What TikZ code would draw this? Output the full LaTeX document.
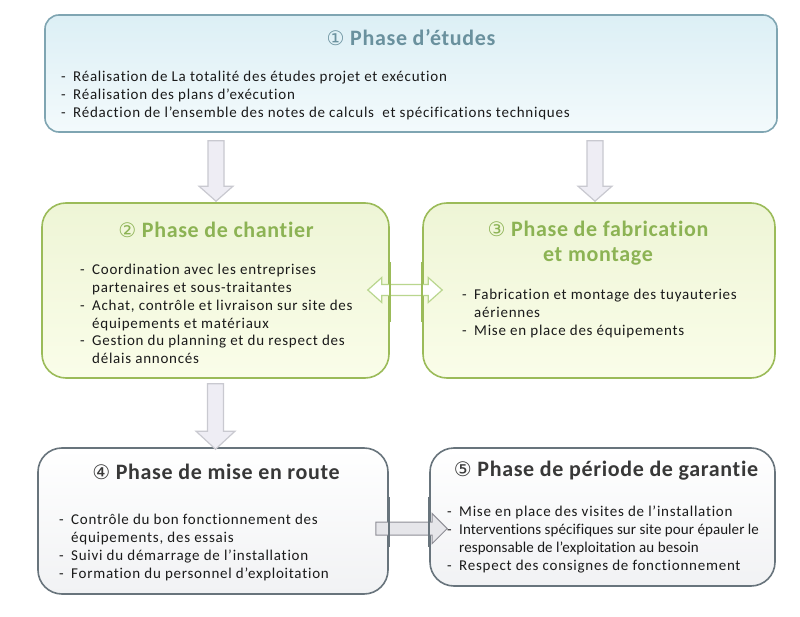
\documentclass[tikz,border=0pt]{standalone}
\usepackage{fontspec}
\setmainfont{Carlito}[Ligatures={NoCommon}]
\newfontfamily\bodyfont{Carlito}[Ligatures={NoCommon}, LetterSpace=5]
\newfontfamily\tightfont{Carlito}[Ligatures={NoCommon}, LetterSpace=0.5]
\newfontfamily\titlefont{Carlito}[Ligatures={NoCommon}, LetterSpace=3]
\newfontfamily\circfont{DejaVu Sans}
\usetikzlibrary{calc}
\definecolor{bluebd}{HTML}{7FA5B2}
\definecolor{bluetop}{HTML}{DCEFF5}
\definecolor{bluebot}{HTML}{F3FAFC}
\definecolor{bluetitle}{HTML}{6A919E}
\definecolor{greenbd}{HTML}{9BBB59}
\definecolor{greentop}{HTML}{EEF5D6}
\definecolor{greenbot}{HTML}{FAFDE9}
\definecolor{greentitle}{HTML}{8CB354}
\definecolor{greybd}{HTML}{68747C}
\definecolor{greytop}{HTML}{FFFFFF}
\definecolor{greybot}{HTML}{F1F2F4}
\definecolor{greytitle}{HTML}{383838}
\definecolor{arrowfill}{HTML}{EEEDF4}
\definecolor{arrowbd}{HTML}{C9C9D0}
\definecolor{rarrowfill}{HTML}{E6E6EA}
\definecolor{rarrowbd}{HTML}{8E8E96}
\definecolor{darrowbd}{HTML}{B9D68E}
\definecolor{bodytext}{HTML}{1A1A1A}
\newcommand\itm{\makebox[12pt][l]{-}}
\newcommand\cnt{\hspace*{12pt}}
\newcommand\tight[1]{{\tightfont\fontsize{15}{17.8}\selectfont #1}}
\newcommand\circnum[1]{{\circfont\fontsize{20}{24}\selectfont\mdseries #1}}
\newcommand\downblock[6]{%
  \path[#6] ($(#1)+(-#3,0)$) -- ($(#2)+(-#3,-#5)$) -- ($(#2)+(-#4,-#5)$) -- (#2)
    -- ($(#2)+(#4,-#5)$) -- ($(#2)+(#3,-#5)$) -- ($(#1)+(#3,0)$) -- cycle;}
\newcommand\rightblock[6]{%
  \path[#6] ($(#1)+(0,-#3)$) -- ($(#2)+(-#5,-#3)$) -- ($(#2)+(-#5,-#4)$) -- (#2)
    -- ($(#2)+(-#5,#4)$) -- ($(#2)+(-#5,#3)$) -- ($(#1)+(0,#3)$) -- cycle;}
\newcommand\bothblock[6]{%
  \path[#6] (#1) -- ($(#1)+(#5,-#4)$) -- ($(#1)+(#5,-#3)$) -- ($(#2)+(-#5,-#3)$)
    -- ($(#2)+(-#5,-#4)$) -- (#2) -- ($(#2)+(-#5,#4)$) -- ($(#2)+(-#5,#3)$)
    -- ($(#1)+(#5,#3)$) -- ($(#1)+(#5,#4)$) -- cycle;}
\tikzset{
  boxbase/.style={rectangle, inner sep=0pt, line width=1.6pt},
  bluebox/.style={boxbase, draw=bluebd, top color=bluetop, bottom color=bluebot, rounded corners=14pt},
  greenbox/.style={boxbase, draw=greenbd, top color=greentop, bottom color=greenbot, rounded corners=24pt},
  greybox/.style={boxbase, draw=greybd, top color=greytop, bottom color=greybot, rounded corners=24pt},
  title/.style={font=\titlefont\fontsize{22}{25}\selectfont\bfseries, inner sep=0pt, align=center},
  body/.style={font=\bodyfont\fontsize{15}{17.8}\selectfont, text=bodytext, inner sep=0pt, align=left, anchor=north west},
  varrow/.style={fill=arrowfill, draw=arrowbd, line width=1.2pt, line join=miter},
  rarrow/.style={fill=rarrowfill, draw=rarrowbd, line width=1pt, line join=miter},
  darrow/.style={fill=white, draw=darrowbd, line width=1.2pt, line join=miter},
}
\begin{document}
\begin{tikzpicture}[x=1pt,y=-1pt]
\useasboundingbox[fill=white] (0,0) rectangle (800,617);
% boxes
\node[bluebox, minimum width=732pt, minimum height=117pt] (b1) at (411,73.5) {};
\node[greenbox, minimum width=347pt, minimum height=175pt] (b2) at (215.5,290.5) {};
\node[greenbox, minimum width=352pt, minimum height=175pt] (b3) at (599,290.5) {};
\node[greybox, minimum width=350pt, minimum height=146pt] (b4) at (213,521) {};
\node[greybox, minimum width=345pt, minimum height=138pt] (b5) at (602.5,517) {};
% arrows
\coordinate (a1s) at ($(b1.south)+(-195,8)$);
\coordinate (a1t) at ($(b2.north)+(0.5,-1)$);
\coordinate (a2s) at ($(b1.south)+(184,8)$);
\coordinate (a2t) at ($(b3.north)+(-4,-1)$);
\coordinate (a3s) at ($(b2.south)+(0,5)$);
\coordinate (a3t) at ($(b4.north)+(2.5,2)$);
\coordinate (a4s) at ($(b4.east)+(-13,7.5)$);
\coordinate (a4t) at ($(b5.west)+(18,11.5)$);
\coordinate (a5l) at ($(b2.east)+(-22,-0.5)$);
\coordinate (a5r) at ($(b3.west)+(20,-0.5)$);
\downblock{a1s}{a1t}{8}{17}{15}{varrow}
\downblock{a2s}{a2t}{8}{17}{15}{varrow}
\downblock{a3s}{a3t}{8}{19.5}{18}{varrow}
\rightblock{a4s}{a4t}{6.5}{15}{15}{rarrow}
\bothblock{a5l}{a5r}{5.5}{12.5}{14}{darrow}
% redraw borders crossed by arrows
\draw[greenbd, line width=1.6pt] (b2.north east) ++(0,60) -- ++(0,60);
\draw[greenbd, line width=1.6pt] (b3.north west) ++(0,60) -- ++(0,60);
\draw[greybd, line width=1.6pt] (b4.north east) ++(0,50) -- ++(0,50);
\draw[greybd, line width=1.6pt] (b5.north west) ++(0,50) -- ++(0,50);
% titles
\node[title, text=bluetitle] (t1) at (411,38) {\circnum{①} Phase d’études};
\node[title, text=greentitle] (t2) at (216,230) {\circnum{②} Phase de chantier};
\node[title, text=greentitle] (t3) at (598,243.5) {\circnum{③} Phase de fabrication\\et montage};
\node[title, text=greytitle] (t4) at (216,472) {\circnum{④} Phase de mise en route};
\node[title, text=greytitle] (t5) at (606,471) {\circnum{⑤} Phase de période de garantie};
% bodies
\node[body] (x1) at (61,71) {\itm Réalisation de La totalité des études projet et exécution\\
\itm Réalisation des plans d’exécution\\
\itm Rédaction de l’ensemble des notes de calculs\ \ et spécifications techniques};
\node[body] (x2) at (80,264) {\itm Coordination avec les entreprises\\
\cnt partenaires et sous-traitantes\\
\itm Achat, contrôle et livraison sur site des\\
\cnt équipements et matériaux\\
\itm Gestion du planning et du respect des\\
\cnt délais annoncés};
\node[body] (x3) at (462,289) {\itm Fabrication et montage des tuyauteries\\
\cnt aériennes\\
\itm Mise en place des équipements};
\node[body] (x4) at (59,514) {\itm Contrôle du bon fonctionnement des\\
\cnt équipements, des essais\\
\itm Suivi du démarrage de l’installation\\
\itm Formation du personnel d’exploitation};
\node[body] (x5) at (447,506) {\itm Mise en place des visites de l’installation\\
\itm \tight{Interventions spécifiques sur site pour épauler le}\\
\cnt \tight{responsable de l’exploitation au besoin}\\
\itm Respect des consignes de fonctionnement};
\end{tikzpicture}
\end{document}
